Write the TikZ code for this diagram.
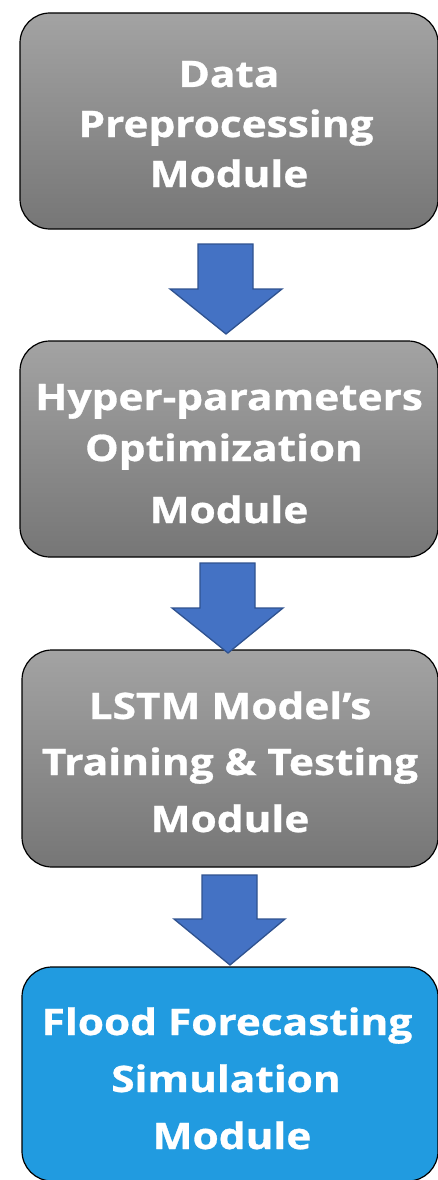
\documentclass[tikz,border=0pt]{standalone}
\usepackage{fontspec}
\usepackage{graphicx}
\setmainfont{Open Sans}[BoldFeatures={FakeBold=0.8}]
\definecolor{gtop}{HTML}{A3A3A3}
\definecolor{gbot}{HTML}{767676}
\definecolor{fblue}{HTML}{219BE0}
\definecolor{afill}{HTML}{4472C4}
\definecolor{aedge}{HTML}{2F528F}
\newcommand{\wide}[1]{\scalebox{1.16}[1]{#1}}
\tikzset{
  grayboxstyle/.style={draw=black, line width=1.2pt, rounded corners=30pt, top color=gtop, bottom color=gbot},
  blueboxstyle/.style={draw=black, line width=1.2pt, rounded corners=30pt, fill=fblue},
  linetext/.style={anchor=base, text=white, inner sep=0pt, font=\fontsize{36.5}{42}\selectfont\bfseries},
  blockarrow/.style={fill=afill, draw=aedge, line width=1.3pt, line join=miter}
}
\begin{document}
\begin{tikzpicture}[x=1pt,y=-1pt]
\useasboundingbox (0,0) rectangle (437,1180);
% boxes
\path[grayboxstyle] (20,13) rectangle (438,229);
\path[grayboxstyle] (20,341) rectangle (438,557);
\path[grayboxstyle] (22,650) rectangle (438,867);
\path[blueboxstyle] (22,967) rectangle (438,1181);
% texts
\node[linetext] (t11) at (229,87) {\wide{Data}};
\node[linetext] (t12) at (226,137) {\wide{Preprocessing}};
\node[linetext] (t13) at (229,187) {\wide{Module}};
\node[linetext] (t21) at (229,410) {\wide{Hyper-parameters}};
\node[linetext] (t22) at (224,461) {\wide{Optimization}};
\node[linetext] (t23) at (229,523) {\wide{Module}};
\node[linetext] (t31) at (230,719) {\wide{LSTM Model’s}};
\node[linetext] (t32) at (230,775) {\wide{Training \& Testing}};
\node[linetext] (t33) at (230,832) {\wide{Module}};
\node[linetext] (t41) at (227,1035) {\wide{Flood Forecasting}};
\node[linetext] (t42) at (226,1092) {\wide{Simulation}};
\node[linetext] (t43) at (232,1149) {\wide{Module}};
% block arrows
\draw[blockarrow] (198,244) -- (253,244) -- (253,289) -- (282,289) -- (226,334) -- (170,289) -- (198,289) -- cycle;
\draw[blockarrow] (200,563) -- (255,563) -- (255,608) -- (283,608) -- (228,653) -- (172,608) -- (200,608) -- cycle;
\draw[blockarrow] (202,875) -- (257,875) -- (257,919) -- (285,919) -- (230,965) -- (174,919) -- (202,919) -- cycle;
\end{tikzpicture}
\end{document}
